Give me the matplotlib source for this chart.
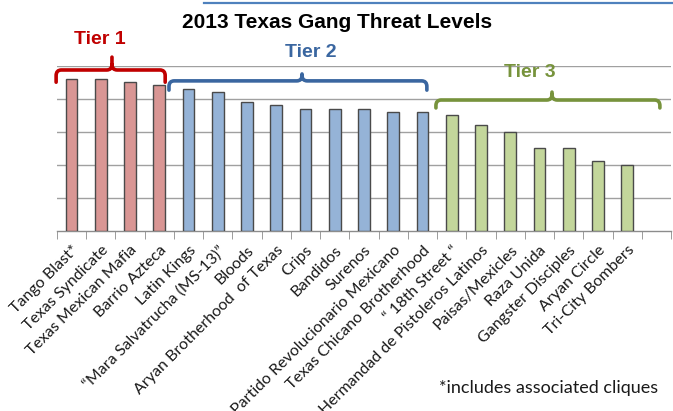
import matplotlib
matplotlib.use("Agg")
import matplotlib.pyplot as plt
from matplotlib.path import Path
from matplotlib.patches import PathPatch
from matplotlib.lines import Line2D
import numpy as np

# ---- data ----
gangs = [
    "Tango Blast*", "Texas Syndicate", "Texas Mexican Mafia", "Barrio Azteca",
    "Latin Kings", "\u201cMara Salvatrucha (MS-13)\u201d", "Bloods", "Aryan Brotherhood  of Texas",
    "Crips", "Bandidos", "Surenos", "Partido Revolucionario Mexicano",
    "Texas Chicano Brotherhood", "\u201c 18th Street \u201c", "Hermandad de Pistoleros Latinos",
    "Paisas/Mexicles", "Raza Unida", "Gangster Disciples", "Aryan Circle", "Tri-City Bombers",
]
threat = [4.6, 4.6, 4.5, 4.4,
          4.3, 4.2, 3.9, 3.8, 3.7, 3.7, 3.7, 3.6, 3.6,
          3.5, 3.2, 3.0, 2.5, 2.5, 2.1, 2.0]
tier = [1, 1, 1, 1,
        2, 2, 2, 2, 2, 2, 2, 2, 2,
        3, 3, 3, 3, 3, 3, 3]
tier_labels = ["Tier 1", "Tier 2", "Tier 3"]

fill = {1: "#D99694", 2: "#95B3D7", 3: "#C3D69B"}
dark = {1: "#C00000", 2: "#3A66A0", 3: "#77933C"}

W, H = 673, 411
fig = plt.figure(figsize=(W / 100, H / 100), dpi=100)
ax = fig.add_axes([57 / W, 1 - 230.7 / H, (671 - 57) / W, (230.7 - 65.7) / H])

n = len(gangs)
x = np.arange(n)
ax.bar(x, threat, width=0.4, color=[fill[t] for t in tier],
       edgecolor="#4A4A4A", linewidth=1.0, zorder=3)

ax.set_xlim(-0.5, n + 0.5)
ax.set_ylim(0, 5)
ax.set_yticks(np.arange(1, 6))
ax.yaxis.grid(True, color="#A0A0A0", linewidth=1.0, zorder=0)
ax.tick_params(axis="y", left=False, labelleft=False)
for s in ["left", "right", "top"]:
    ax.spines[s].set_visible(False)
ax.spines["bottom"].set_color("#8C8C8C")
ax.spines["bottom"].set_linewidth(1.0)

ax.set_xticks(x)
ax.set_xticklabels(gangs, rotation=45, ha="right", rotation_mode="anchor",
                   fontsize=11.5, family=["Lato", "DejaVu Sans"], color="#1A1A1A")
ax.tick_params(axis="x", length=0, pad=9)
ax.set_xticks(np.arange(-0.5, n + 1.0, 1.0), minor=True)
ax.tick_params(axis="x", which="minor", length=6, color="#8C8C8C", direction="out")


def bracket(x0, x1, xc, yh, yend, ytop, color):
    rx, ry = 0.18, 0.17
    verts = [(x0, yend), (x0, yh - ry), (x0, yh), (x0 + rx, yh),
             (xc - rx, yh), (xc, yh), (xc, yh + ry), (xc, ytop),
             (xc, yh + ry), (xc, yh), (xc + rx, yh),
             (x1 - rx, yh), (x1, yh), (x1, yh - ry), (x1, yend)]
    codes = [Path.MOVETO, Path.LINETO, Path.CURVE3, Path.CURVE3,
             Path.LINETO, Path.CURVE3, Path.CURVE3, Path.LINETO,
             Path.MOVETO, Path.CURVE3, Path.CURVE3,
             Path.LINETO, Path.CURVE3, Path.CURVE3, Path.LINETO]
    p = PathPatch(Path(verts, codes), facecolor="none", edgecolor=color,
                  linewidth=2.6, capstyle="round", joinstyle="round",
                  clip_on=False, zorder=5)
    ax.add_patch(p)


# bracket geometry per tier (positioning only)
groups = {}
for i, t in enumerate(tier):
    groups.setdefault(t, []).append(i)

geo = {
    1: dict(pad_l=-0.53, pad_r=0.20, cofs=-0.12, yh=4.87, yend=4.50, ytop=5.26, tx=-0.43, ty=5.78),
    2: dict(pad_l=-0.67, pad_r=0.15, cofs=-0.12, yh=4.54, yend=4.26, ytop=4.75, tx=0.31, ty=5.41),
    3: dict(pad_l=-0.54, pad_r=1.12, cofs=0.43, yh=3.96, yend=3.72, ytop=4.20, tx=-0.75, ty=4.78),
}
for t, idxs in groups.items():
    g = geo[t]
    a, b = idxs[0], idxs[-1]
    xc = (a + b) / 2 + g["cofs"]
    bracket(a + g["pad_l"], b + g["pad_r"], xc, g["yh"], g["yend"], g["ytop"], dark[t])
    ax.text(xc + g["tx"], g["ty"], tier_labels[t - 1], ha="center", va="center",
            fontsize=14, fontweight="bold", family="Liberation Sans",
            color=dark[t], clip_on=False)

fig.text(337.5 / W, 1 - 23 / H, "2013 Texas Gang Threat Levels", ha="center", va="center",
         fontsize=15, fontweight="bold", family="Liberation Sans", color="#000000")

fig.add_artist(Line2D([204 / W, 1.0], [1 - 3 / H, 1 - 3 / H], transform=fig.transFigure,
                      color="#4F81BD", linewidth=1.6))

fig.text(658 / W, 1 - 388 / H, "*includes associated cliques", ha="right", va="center",
         fontsize=13, family=["Lato", "DejaVu Sans"], color="#1A1A1A")

fig.savefig("out.png", dpi=100, facecolor="white")
